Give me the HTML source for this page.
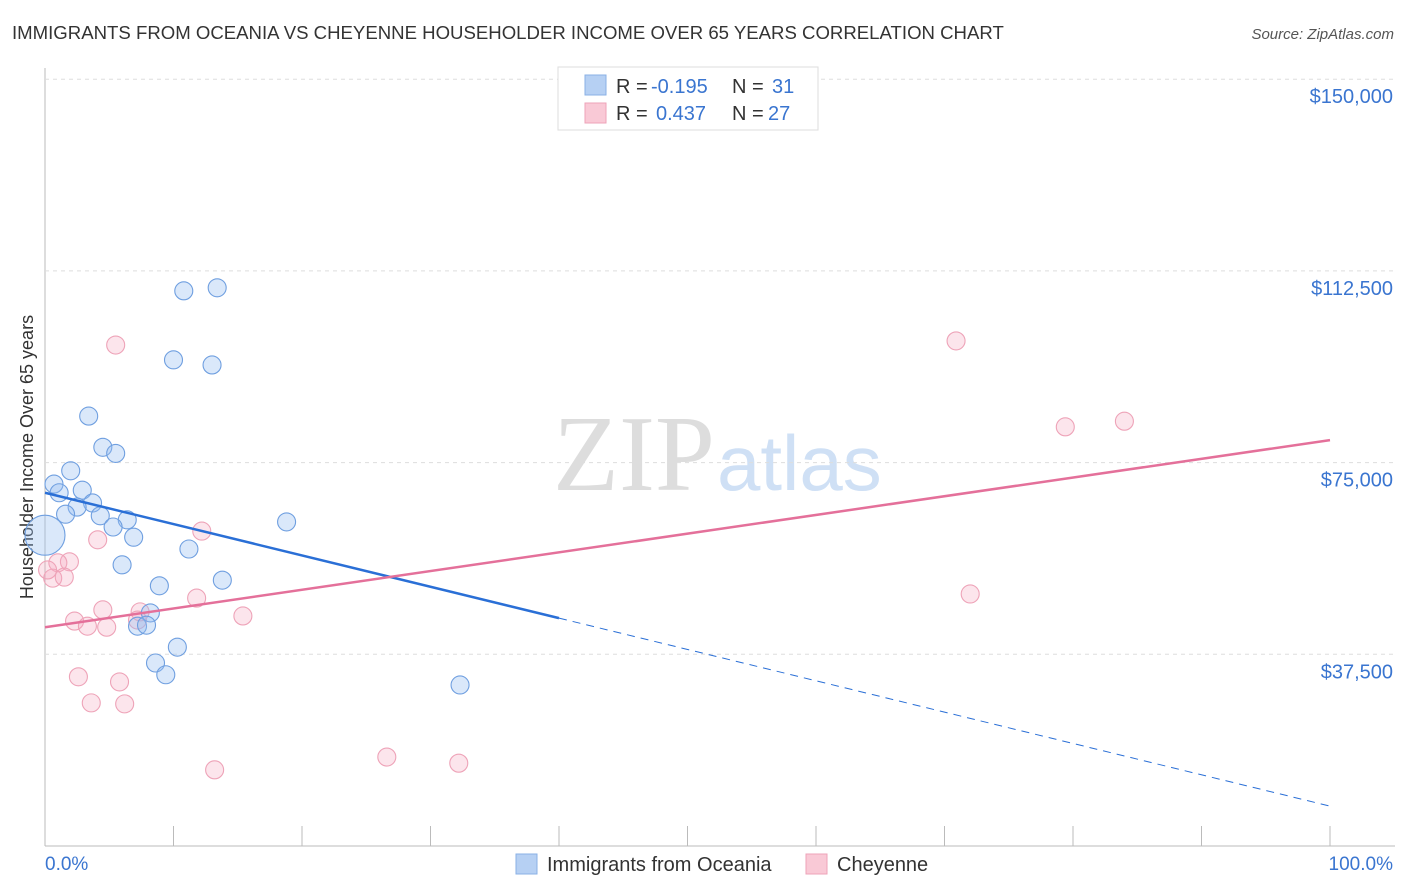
<!DOCTYPE html>
<html><head><meta charset="utf-8"><style>
body{margin:0;background:#fff;font-family:"Liberation Sans",sans-serif;}
svg{display:block}
</style></head><body>
<svg id="chart" width="1406" height="892">
<text x="12" y="39" font-size="18.6" fill="#333">IMMIGRANTS FROM OCEANIA VS CHEYENNE HOUSEHOLDER INCOME OVER 65 YEARS CORRELATION CHART</text>
<text x="1394" y="39" font-size="15" fill="#555" font-style="italic" text-anchor="end">Source: ZipAtlas.com</text>
<text x="715" y="490" font-size="108" fill="#ddd" text-anchor="end" font-family="Liberation Serif,serif">ZIP</text>
<text x="717" y="490" font-size="78" fill="#cfe0f5">atlas</text>
<text transform="translate(33,457) rotate(-90)" font-size="18" fill="#333" text-anchor="middle">Householder Income Over 65 years</text>
<g id="grid"></g><g id="marks"></g>
<g>
<rect x="558" y="67" width="260" height="63" fill="#fff" stroke="#ddd"/>
<rect x="585" y="75" width="21" height="20" fill="#b6d0f3" stroke="#8ab0e6"/>
<rect x="585" y="103" width="21" height="20" fill="#f9c9d6" stroke="#eea3b8"/>
<text x="616" y="93" font-size="20" fill="#333">R =</text><text x="651" y="93" font-size="20" fill="#3a75d0">-0.195</text>
<text x="732" y="93" font-size="20" fill="#333">N =</text><text x="772" y="93" font-size="20" fill="#3a75d0">31</text>
<text x="616" y="120" font-size="20" fill="#333">R =</text><text x="656" y="120" font-size="20" fill="#3a75d0">0.437</text>
<text x="732" y="120" font-size="20" fill="#333">N =</text><text x="768" y="120" font-size="20" fill="#3a75d0">27</text>
</g>
<g>
<rect x="516" y="854" width="21" height="20" fill="#b6d0f3" stroke="#8ab0e6"/>
<text x="547" y="871" font-size="20" fill="#333">Immigrants from Oceania</text>
<rect x="806" y="854" width="21" height="20" fill="#f9c9d6" stroke="#eea3b8"/>
<text x="837" y="871" font-size="20" fill="#333">Cheyenne</text>
</g>
<text x="45" y="870" font-size="19" fill="#3a75d0">0.0%</text>
<text x="1393" y="870" font-size="19" fill="#3a75d0" text-anchor="end">100.0%</text>
</svg>
<script>
const yTicks=[37500,75000,112500,150000];
const yTickLabels=["$37,500","$75,000","$112,500","$150,000"];
const blueX=[10.8,13.4,10.0,13.0,3.4,4.5,5.5,2.0,0.7,1.1,2.9,3.7,2.5,1.6,4.3,6.4,5.3,6.9,0,11.2,6.0,8.9,13.8,8.2,7.2,7.9,10.3,8.6,9.4,18.8,32.3];
const blueY=[108.6,109.2,95.1,94.1,84.1,78.0,76.8,73.4,70.8,69.1,69.6,67.1,66.3,64.9,64.6,63.8,62.4,60.4,60.8,58.1,55.0,50.9,52.0,45.6,43.0,43.2,38.9,35.8,33.5,63.4,31.5];
const blueR=[9,9,9,9,9,9,9,9,9,9,9,9,9,9,9,9,9,9,20,9,9,9,9,9,9,9,9,9,9,9,9];
const pinkX=[5.5,70.9,79.4,84.0,12.2,4.1,1.9,1.0,0.6,1.5,72.0,4.5,7.4,11.8,15.4,2.3,3.3,4.8,7.2,2.6,5.8,3.6,6.2,13.2,26.6,32.2,0.2];
const pinkY=[98.0,98.8,82.0,83.1,61.6,59.9,55.6,55.4,52.4,52.6,49.3,46.2,45.8,48.5,45.0,44.0,43.0,42.8,44.2,33.1,32.1,28.0,27.8,14.9,17.4,16.2,54.0];
const blueTrend=[69.1,7.8];
const pinkTrend=[42.8,79.4];
const blueSolidEnd=40;
const NS="http://www.w3.org/2000/svg";
const X=v=>45+v*12.85;
function Yk(v){return 846-v*5.112;}
function mk(t,a,p){const e=document.createElementNS(NS,t);for(const k in a)e.setAttribute(k,a[k]);p.appendChild(e);return e;}
const grid=document.getElementById('grid'),marks=document.getElementById('marks');
mk('line',{x1:45,y1:68,x2:45,y2:846,stroke:'#bbb'},grid);
mk('line',{x1:45,y1:846,x2:1395,y2:846,stroke:'#bbb'},grid);
for(let i=0;i<=10;i++){const t=mk('line',{x1:X(i*10),x2:X(i*10),y1:826,y2:846,stroke:'#bbb'},grid);

}
yTicks.forEach((v,i)=>{const y=Yk(v/1000);
const g=mk('line',{x1:45,x2:1395,y1:y,y2:y,stroke:'#ddd','stroke-dasharray':'4,4'},grid);


const t=mk('text',{x:1393,y:y+24,'font-size':20,fill:'#3a75d0','text-anchor':'end'},grid);t.textContent=yTickLabels[i];

});
pinkX.forEach((x,i)=>{const c=mk('circle',{cx:X(x),cy:Yk(pinkY[i]),r:9,fill:'rgba(246,170,192,0.3)',stroke:'#eea3b8','stroke-width':1.1},marks);

});
blueX.forEach((x,i)=>{const c=mk('circle',{cx:X(x),cy:Yk(blueY[i]),r:blueR[i],fill:'rgba(150,190,240,0.35)',stroke:'#6f9fe0','stroke-width':1.1},marks);

});
const bAt=x=>blueTrend[0]+(blueTrend[1]-blueTrend[0])*x/100;
let l=mk('line',{x1:X(0),y1:Yk(bAt(0)),x2:X(blueSolidEnd),y2:Yk(bAt(blueSolidEnd)),stroke:'#2a6fd6','stroke-width':2.5},marks);


l=mk('line',{x1:X(blueSolidEnd),y1:Yk(bAt(blueSolidEnd)),x2:X(100),y2:Yk(bAt(100)),stroke:'#2a6fd6','stroke-width':1,'stroke-dasharray':'8,6'},marks);


l=mk('line',{x1:X(0),y1:Yk(pinkTrend[0]),x2:X(100),y2:Yk(pinkTrend[1]),stroke:'#e4709a','stroke-width':2.5},marks);


</script>
</body></html>
